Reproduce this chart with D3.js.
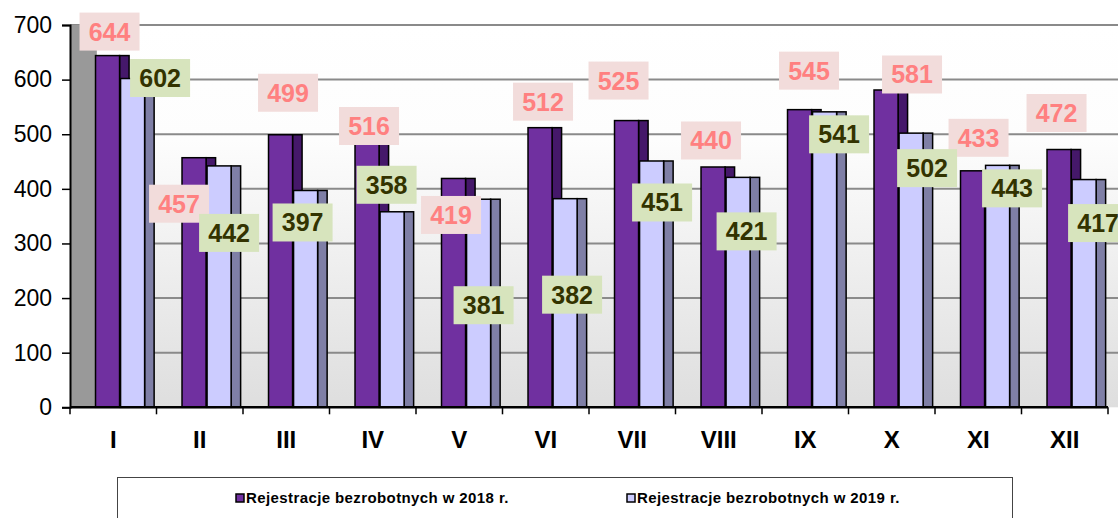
<!DOCTYPE html>
<html>
<head>
  <meta charset="utf-8" />
  <title>Rejestracje bezrobotnych</title>
  <script src="https://d3js.org/d3.v7.min.js"></script>
  <style>
    body, html { margin: 0; padding: 0; background: #fff; }
    svg { display: block; font-family: "Liberation Sans", Arial, sans-serif; }
  </style>
</head>
<body>
<svg id="chart" width="1118" height="518"></svg>
<script>
// data
var months = ["I", "II", "III", "IV", "V", "VI", "VII", "VIII", "IX", "X", "XI", "XII"];
var reg2018 = [644, 457, 499, 516, 419, 512, 525, 440, 545, 581, 433, 472];
var reg2019 = [602, 442, 397, 358, 381, 382, 451, 421, 541, 502, 443, 417];
var yTicks = [0, 100, 200, 300, 400, 500, 600, 700];
var seriesNames = ["Rejestracje bezrobotnych w 2018 r.", "Rejestracje bezrobotnych w 2019 r."];

// where excel left the data labels (pixel nudge from the bar top)
var shift2018 = [[2, -24], [-15, 46], [7.5, -42], [2, 0.5], [-2.5, 36.5], [3, -26],
                 [-8, -40], [-2, -26.5], [9.5, -39], [26, -15.5], [6, -33], [-2.5, -36.5]];
var shift2019 = [[27.5, -0.5], [10, 67], [-3, 32], [-5.5, -27], [5, 106], [7, 96],
                 [10.5, 41.5], [8.5, 54], [14.5, 22.5], [16, 35], [14.5, 23], [14, 43.5]];

var svg = d3.select("#chart");
var plotL = 70, plotR = 1108, plotT = 25, plotB = 407.3;

var x = d3.scaleBand().domain(months).range([plotL, plotR]).padding(0);
var y = d3.scaleLinear().domain([0, 700]).range([plotB, plotT]);
var bw = x.bandwidth();

// back wall gradient
var defs = svg.append("defs");
var grad = defs.append("linearGradient").attr("id", "wall")
  .attr("x1", 0).attr("y1", 0).attr("x2", 0).attr("y2", 1);
grad.append("stop").attr("offset", "0%").attr("stop-color", "#ffffff");
grad.append("stop").attr("offset", "30%").attr("stop-color", "#fdfdfd");
grad.append("stop").attr("offset", "100%").attr("stop-color", "#dedede");

svg.append("rect")
  .attr("x", plotL).attr("y", plotT)
  .attr("width", 1118 - plotL).attr("height", plotB - plotT)
  .attr("fill", "url(#wall)");

// gridlines
svg.append("g").selectAll("line")
  .data(yTicks.slice(1))
  .enter().append("line")
  .attr("x1", plotL).attr("x2", 1118)
  .attr("y1", function(d) { return y(d); })
  .attr("y2", function(d) { return y(d); })
  .attr("stroke", "#8a8a8a")
  .attr("stroke-width", 2);

// grey side wall (3d depth)
svg.append("rect")
  .attr("x", plotL).attr("y", plotT)
  .attr("width", bw * 0.31).attr("height", plotB - plotT)
  .attr("fill", "#999999");

// bars
var front1 = bw * 0.295, fw = bw * 0.278, sw = bw * 0.11;
var front2 = front1 + fw + 1;

var groups = svg.append("g").selectAll("g")
  .data(months)
  .enter().append("g");

function face(g, x0, w, v, fill) {
  g.append("rect")
    .attr("x", x0).attr("y", y(v))
    .attr("width", w).attr("height", y(0) - y(v))
    .attr("fill", fill)
    .attr("stroke", "#000")
    .attr("stroke-width", 1.5);
}

groups.each(function(m, i) {
  var g = d3.select(this);
  var b = x(m);
  face(g, b + front1 + fw, sw, reg2018[i], "#45186a");
  face(g, b + front1, fw, reg2018[i], "#7030a0");
  face(g, b + front2 + fw, sw, reg2019[i], "#7f7fa6");
  face(g, b + front2, fw, reg2019[i], "#ccccff");
});

// axes
var yAxis = d3.axisLeft(y).tickValues(yTicks).tickSize(8).tickPadding(10);
var ya = svg.append("g").attr("transform", "translate(" + plotL + ",0)").call(yAxis);
ya.select(".domain").attr("stroke", "#000").attr("stroke-width", 2);
ya.selectAll(".tick line").attr("stroke", "#000").attr("stroke-width", 1.5);
ya.selectAll(".tick text").attr("font-size", 23).attr("fill", "#000")
  .attr("font-family", "Liberation Sans, Arial, sans-serif");

var xa = svg.append("g").attr("transform", "translate(0," + plotB + ")");
xa.append("line").attr("x1", plotL).attr("x2", plotR)
  .attr("stroke", "#000").attr("stroke-width", 2.5);
xa.selectAll("line.tk")
  .data(months.concat(["end"]))
  .enter().append("line")
  .attr("class", "tk")
  .attr("x1", function(d, i) { return plotL + i * bw; })
  .attr("x2", function(d, i) { return plotL + i * bw; })
  .attr("y1", 0).attr("y2", 7)
  .attr("stroke", "#000").attr("stroke-width", 1.5);
xa.selectAll("text")
  .data(months)
  .enter().append("text")
  .attr("x", function(d) { return x(d) + bw / 2; })
  .attr("y", 41)
  .attr("text-anchor", "middle")
  .attr("font-size", 24)
  .attr("font-weight", "bold")
  .text(function(d) { return d; });

// data labels
function labels(vals, shift, offset, bg, fg) {
  var g = svg.append("g").selectAll("g")
    .data(vals)
    .enter().append("g")
    .attr("transform", function(d, i) {
      var cx = x(months[i]) + offset + fw / 2 + shift[i][0];
      var cy = y(d) + shift[i][1];
      return "translate(" + cx + "," + cy + ")";
    });
  g.append("rect")
    .attr("x", -30).attr("y", -19)
    .attr("width", 60).attr("height", 38)
    .attr("fill", bg);
  g.append("text")
    .attr("text-anchor", "middle")
    .attr("dy", "0.36em")
    .attr("font-size", 25)
    .attr("font-weight", "bold")
    .attr("fill", fg)
    .text(function(d) { return d; });
}
labels(reg2018, shift2018, front1, "#f2dcdb", "#ff8080");
labels(reg2019, shift2019, front2, "#d7e4bd", "#333300");

// legend
svg.append("rect")
  .attr("x", 117.5).attr("y", 477.5)
  .attr("width", 895).attr("height", 60)
  .attr("fill", "#fff")
  .attr("stroke", "#444").attr("stroke-width", 1);

var legendX = [236, 627];
var legendFill = ["#7030a0", "#ccccff"];
var lg = svg.append("g").selectAll("g")
  .data(seriesNames)
  .enter().append("g")
  .attr("transform", function(d, i) { return "translate(" + legendX[i] + ",498)"; });
lg.append("rect")
  .attr("x", 0).attr("y", -4)
  .attr("width", 8).attr("height", 8)
  .attr("fill", function(d, i) { return legendFill[i]; })
  .attr("stroke", "#000").attr("stroke-width", 1.5);
lg.append("text")
  .attr("x", 10).attr("dy", "0.35em")
  .attr("font-size", 15)
  .attr("letter-spacing", 0.4)
  .attr("font-weight", "bold")
  .attr("fill", "#000")
  .text(function(d) { return d; });
</script>
</body>
</html>
